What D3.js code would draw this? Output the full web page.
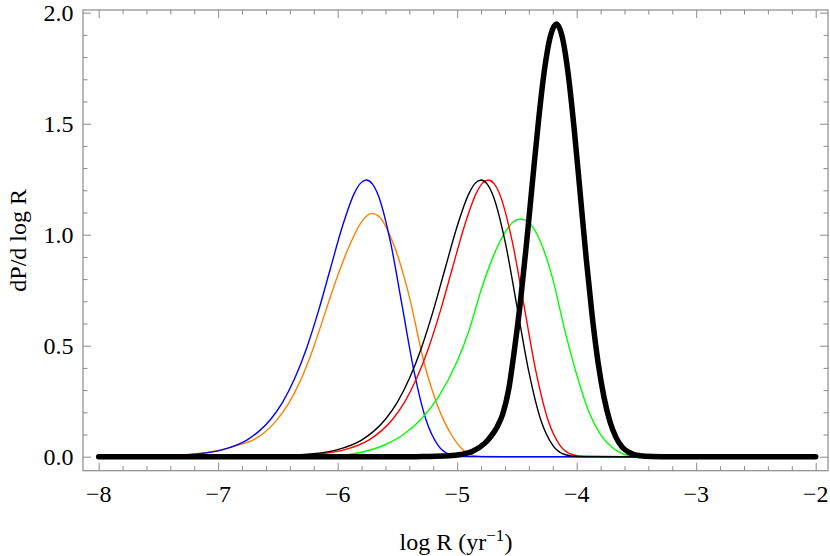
<!DOCTYPE html>
<html>
<head>
<meta charset="utf-8">
<script src="https://cdn.jsdelivr.net/npm/d3@7"></script>
<style>
  html, body { margin: 0; padding: 0; background: #fff; }
  svg text { font-family: "Liberation Serif", "DejaVu Serif", serif; }
</style>
</head>
<body>
<svg id="chart" width="830" height="556"></svg>
<script>
// ---- data ----
const xTickValues = [-8, -7, -6, -5, -4, -3, -2];
const xTickLabels = ["\u22128", "\u22127", "\u22126", "\u22125", "\u22124", "\u22123", "\u22122"];
const yTickValues = [0, 0.5, 1.0, 1.5, 2.0];
const yTickLabels = ["0.0", "0.5", "1.0", "1.5", "2.0"];

const blueX = [-8, -7.56, -7.16, -6.96, -6.76, -6.66, -6.56, -6.46, -6.36, -6.26, -6.16, -6.06, -5.96, -5.86, -5.81, -5.76, -5.71, -5.66, -5.56, -5.46, -5.36, -5.26, -5.16, -5.06, -4.96, -4.6, -2];
const blueY = [0, 0.002, 0.0135, 0.032, 0.075, 0.114, 0.169, 0.246, 0.352, 0.489, 0.658, 0.849, 1.038, 1.187, 1.231, 1.2465, 1.229, 1.177, 0.972, 0.678, 0.382, 0.165, 0.051, 0.010, 0.001, 0, 0];

const orangeX = [-8, -7.6, -7.2, -7.0, -6.85, -6.71, -6.61, -6.51, -6.41, -6.31, -6.21, -6.11, -6.01, -5.91, -5.81, -5.76, -5.716, -5.65, -5.6, -5.55, -5.5, -5.45, -5.4, -5.35, -5.3, -5.25, -5.2, -5.15, -5.1, -5.05, -5.0, -4.95, -4.9, -4.85, -4.75, -2];
const orangeY = [0, 0.002, 0.012, 0.028, 0.05, 0.075, 0.11, 0.165, 0.24, 0.345, 0.48, 0.64, 0.80, 0.94, 1.05, 1.083, 1.096, 1.08, 1.04, 0.98, 0.91, 0.82, 0.72, 0.60, 0.475, 0.37, 0.285, 0.21, 0.15, 0.10, 0.06, 0.03, 0.012, 0.004, 0, 0];

const blackX = [-8, -6.6, -6.2, -6.0, -5.8, -5.7, -5.6, -5.5, -5.4, -5.3, -5.2, -5.1, -5.0, -4.9, -4.85, -4.8, -4.75, -4.7, -4.6, -4.5, -4.4, -4.3, -4.2, -4.1, -4.0, -3.6, -2];
const blackY = [0, 0.002, 0.0135, 0.032, 0.075, 0.114, 0.169, 0.246, 0.352, 0.489, 0.658, 0.849, 1.038, 1.187, 1.231, 1.2465, 1.229, 1.177, 0.972, 0.678, 0.382, 0.165, 0.051, 0.010, 0.001, 0, 0];

const redX = [-8, -6.54, -6.14, -5.94, -5.74, -5.64, -5.54, -5.44, -5.34, -5.24, -5.14, -5.04, -4.94, -4.84, -4.79, -4.74, -4.69, -4.64, -4.54, -4.44, -4.34, -4.24, -4.14, -4.04, -3.94, -3.55, -2];
const redY = [0, 0.002, 0.0135, 0.032, 0.075, 0.114, 0.169, 0.246, 0.352, 0.489, 0.658, 0.849, 1.038, 1.187, 1.231, 1.2465, 1.229, 1.177, 0.972, 0.678, 0.382, 0.165, 0.051, 0.010, 0.001, 0, 0];

const greenX = [-8, -6.3, -6.0, -5.8, -5.6, -5.45, -5.3, -5.15, -5.0, -4.9, -4.8, -4.7, -4.6, -4.53, -4.47, -4.4, -4.3, -4.2, -4.1, -4.0, -3.9, -3.8, -3.7, -3.6, -3.5, -3.3, -2];
const greenY = [0, 0, 0.005, 0.02, 0.055, 0.10, 0.17, 0.275, 0.43, 0.57, 0.75, 0.90, 1.01, 1.058, 1.071, 1.055, 0.965, 0.80, 0.57, 0.37, 0.205, 0.10, 0.04, 0.01, 0.002, 0, 0];

const thickX = [-8, -5.4, -5.27, -5.07, -4.97, -4.87, -4.77, -4.72, -4.67, -4.62, -4.57, -4.52, -4.47, -4.42, -4.37, -4.32, -4.27, -4.22, -4.17, -4.12, -4.07, -4.02, -3.97, -3.92, -3.87, -3.82, -3.77, -3.72, -3.67, -3.62, -3.57, -3.47, -3.37, -3.2, -2];
const thickY = [0, 0, 0.001, 0.004, 0.01, 0.025, 0.06, 0.09, 0.13, 0.19, 0.30, 0.486, 0.702, 0.959, 1.238, 1.510, 1.741, 1.894, 1.949, 1.889, 1.720, 1.471, 1.182, 0.892, 0.633, 0.421, 0.264, 0.155, 0.086, 0.044, 0.022, 0.004, 0.001, 0, 0];

const seriesList = [
  { xs: orangeX, ys: orangeY, color: "#ff8000", width: 1.4 },
  { xs: blueX,   ys: blueY,   color: "#0000ff", width: 1.4 },
  { xs: greenX,  ys: greenY,  color: "#00ff00", width: 1.4 },
  { xs: redX,    ys: redY,    color: "#ff0000", width: 1.4 },
  { xs: blackX,  ys: blackY,  color: "#000000", width: 1.4 },
  { xs: thickX,  ys: thickY,  color: "#000000", width: 5.5 }
];

// ---- layout ----
const W = 830, H = 556;
const mLeft = 83, mRight = 828, mTop = 10, mBottom = 470.7;
const x = d3.scaleLinear().domain([-8.131, -1.897]).range([mLeft, mRight]);
const y = d3.scaleLinear().domain([-0.063, 2.012]).range([mBottom, mTop]);

const svg = d3.select("#chart");
const frameColor = "#8a8a8a";

// data lines (clipped)
svg.append("clipPath").attr("id", "clip")
  .append("rect").attr("x", mLeft).attr("y", mTop).attr("width", mRight - mLeft).attr("height", mBottom - mTop);

const line = d3.line().x(d => x(d[0])).y(d => y(d[1])).curve(d3.curveMonotoneX);
const g = svg.append("g").attr("clip-path", "url(#clip)");
seriesList.forEach(s => {
  g.append("path")
    .datum(s.xs.map((v, i) => [v, s.ys[i]]))
    .attr("d", line)
    .attr("fill", "none")
    .attr("stroke", s.color)
    .attr("stroke-width", s.width)
    .attr("stroke-linejoin", "round")
    .attr("stroke-linecap", "round");
});

// ticks
const majorLen = 8, minorLen = 4.5;
const xMinor = d3.range(-8, -1.9, 0.2).map(v => +v.toFixed(2)).filter(v => Math.abs(v - Math.round(v)) > 1e-6);
const yMinor = d3.range(0, 2.01, 0.1).map(v => +v.toFixed(2)).filter(v => Math.abs(v * 2 - Math.round(v * 2)) > 1e-6);

function axisTicks(axisGen, translate, len, values) {
  svg.append("g").attr("transform", translate)
    .call(axisGen.tickValues(values).tickSize(len).tickFormat(""))
    .call(a => a.select(".domain").remove())
    .call(a => a.selectAll("line").attr("stroke", frameColor).attr("stroke-width", 1));
}
axisTicks(d3.axisTop(x), `translate(0,${mBottom})`, majorLen, xTickValues);
axisTicks(d3.axisTop(x), `translate(0,${mBottom})`, minorLen, xMinor);
axisTicks(d3.axisBottom(x), `translate(0,${mTop})`, majorLen, xTickValues);
axisTicks(d3.axisBottom(x), `translate(0,${mTop})`, minorLen, xMinor);
axisTicks(d3.axisRight(y), `translate(${mLeft},0)`, majorLen, yTickValues);
axisTicks(d3.axisRight(y), `translate(${mLeft},0)`, minorLen, yMinor);
axisTicks(d3.axisLeft(y), `translate(${mRight},0)`, majorLen, yTickValues);
axisTicks(d3.axisLeft(y), `translate(${mRight},0)`, minorLen, yMinor);

// frame
svg.append("rect").attr("x", mLeft).attr("y", mTop).attr("width", mRight - mLeft).attr("height", mBottom - mTop)
  .attr("fill", "none").attr("stroke", frameColor).attr("stroke-width", 1.2);

// tick labels
const fs = 24;
svg.append("g").selectAll("text").data(xTickValues).join("text")
  .attr("x", d => x(d)).attr("y", mBottom + 31.5)
  .attr("text-anchor", "middle").attr("font-size", fs).attr("fill", "#000")
  .text((d, i) => xTickLabels[i]);
svg.append("g").selectAll("text").data(yTickValues).join("text")
  .attr("x", mLeft - 9.5).attr("y", d => y(d)).attr("dy", "0.34em")
  .attr("text-anchor", "end").attr("font-size", fs).attr("fill", "#000")
  .text((d, i) => yTickLabels[i]);

// axis titles
const xt = svg.append("text").attr("x", 456).attr("y", 550).attr("text-anchor", "middle")
  .attr("font-size", fs).attr("fill", "#000");
xt.append("tspan").text("log R (yr");
xt.append("tspan").attr("font-size", 17).attr("dy", -9).text("\u22121");
xt.append("tspan").attr("dy", 9).text(")");

svg.append("text").attr("transform", `translate(26,${(mTop + mBottom) / 2}) rotate(-90)`)
  .attr("text-anchor", "middle").attr("font-size", fs).attr("fill", "#000")
  .text("dP/d log R");
</script>
</body>
</html>
